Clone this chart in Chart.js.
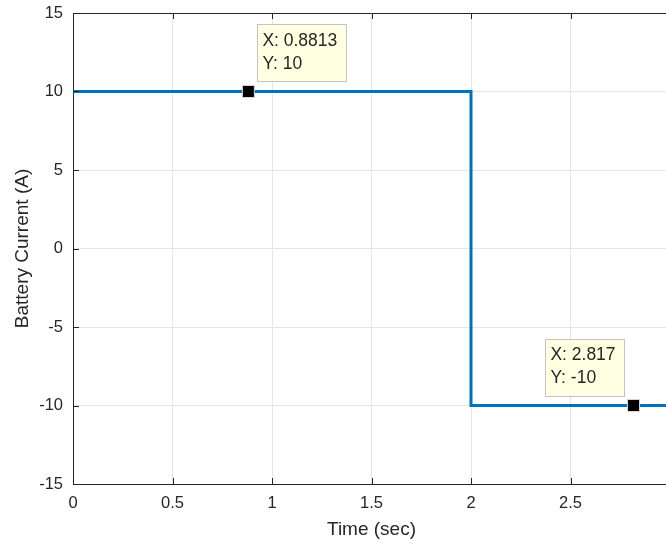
<!DOCTYPE html>
<html>
<head>
<meta charset="utf-8">
<script src="https://cdn.jsdelivr.net/npm/chart.js@4"></script>
<style>
  html, body { margin: 0; padding: 0; overflow: hidden; background: #fff; }
  #wrap { width: 700px; height: 545px; }
</style>
</head>
<body>
<div id="wrap"><canvas id="myChart" width="700" height="545"></canvas></div>
<script>
// step signal: battery current vs time
const time = [0, 2, 2, 3];
const current = [10, 10, -10, -10];

// data cursors
const cursorX = [0.8813, 2.817];
const cursorY = [10, -10];

const xTicks = [0, 0.5, 1, 1.5, 2, 2.5, 3];
const yTicks = [-15, -10, -5, 0, 5, 10, 15];

const textColor = "#262626";
const fontFamily = "'Liberation Sans', Arial, sans-serif";

// box on top, inward tick marks and the data tip boxes
const matlabBits = {
  id: "matlabBits",
  afterDatasetsDraw(chart) {
    const { ctx, chartArea: a, scales } = chart;
    ctx.save();
    ctx.strokeStyle = textColor;
    ctx.lineWidth = 1;
    ctx.beginPath();
    ctx.moveTo(a.left, a.top + 0.5);
    ctx.lineTo(a.right, a.top + 0.5);
    xTicks.forEach((v) => {
      const x = Math.round(scales.x.getPixelForValue(v)) + 0.5;
      ctx.moveTo(x, a.bottom);
      ctx.lineTo(x, a.bottom - 6);
      ctx.moveTo(x, a.top);
      ctx.lineTo(x, a.top + 6);
    });
    yTicks.forEach((v) => {
      const y = Math.round(scales.y.getPixelForValue(v)) + 0.5;
      ctx.moveTo(a.left, y);
      ctx.lineTo(a.left + 6, y);
    });
    ctx.stroke();

    ctx.font = "17.5px " + fontFamily;
    ctx.textBaseline = "middle";
    cursorX.forEach((cx, i) => {
      const px = scales.x.getPixelForValue(cx);
      const py = scales.y.getPixelForValue(cursorY[i]);
      const lines = ["X: " + cx, "Y: " + cursorY[i]];
      const w = Math.max(...lines.map((t) => ctx.measureText(t).width)) + 14;
      const h = 57;
      let left = px + 9;
      if (left + w > a.right) left = px - 9 - w;
      const top = py - 10 - h;
      ctx.fillStyle = "#ffffe1";
      ctx.fillRect(left, top, w, h);
      ctx.strokeStyle = "#c4c4c4";
      ctx.strokeRect(Math.round(left) + 0.5, Math.round(top) + 0.5, Math.round(w), h);
      ctx.fillStyle = textColor;
      ctx.fillText(lines[0], left + 5, top + 17);
      ctx.fillText(lines[1], left + 5, top + 40);
    });
    ctx.restore();
  },
};

new Chart(document.getElementById("myChart"), {
  type: "line",
  data: {
    datasets: [
      {
        label: "Battery Current",
        data: time.map((t, i) => ({ x: t, y: current[i] })),
        borderColor: "#0072BD",
        borderWidth: 3,
        pointRadius: 0,
        fill: false,
        tension: 0,
        order: 2,
      },
      {
        label: "cursors",
        type: "scatter",
        data: cursorX.map((x, i) => ({ x: x, y: cursorY[i] })),
        pointStyle: "rect",
        pointRadius: 8.5,
        backgroundColor: "#000",
        borderColor: "#d8d8d8",
        borderWidth: 1,
        order: 1,
      },
    ],
  },
  options: {
    responsive: false,
    animation: false,
    layout: {
      padding: { top: 13, right: 30, left: 0, bottom: 0 },
    },
    plugins: {
      legend: { display: false },
      tooltip: { enabled: false },
    },
    scales: {
      x: {
        type: "linear",
        min: 0,
        max: 3,
        afterBuildTicks: (s) => { s.ticks = xTicks.map((v) => ({ value: v })); },
        afterFit: (s) => {
          s.height = 61;
          s.paddingLeft = 0;
          s.paddingRight = 0;
        },
        ticks: {
          padding: 10,
          color: textColor,
          font: { family: fontFamily, size: 16.5 },
          maxRotation: 0,
          autoSkip: false,
          callback: (v) => String(v),
        },
        grid: { color: "#e6e6e6", drawTicks: false },
        border: { color: textColor, width: 1 },
        title: {
          display: true,
          text: "Time (sec)",
          color: textColor,
          font: { family: fontFamily, size: 19 },
          padding: { top: 0, bottom: 4 },
        },
      },
      y: {
        min: -15,
        max: 15,
        afterBuildTicks: (s) => { s.ticks = yTicks.map((v) => ({ value: v })); },
        afterFit: (s) => {
          s.width = 73;
          s.paddingTop = 0;
          s.paddingBottom = 0;
        },
        ticks: {
          padding: 10,
          color: textColor,
          font: { family: fontFamily, size: 16.5 },
          autoSkip: false,
          callback: (v) => String(v),
        },
        grid: { color: "#e6e6e6", drawTicks: false },
        border: { color: textColor, width: 1 },
        title: {
          display: true,
          text: "Battery Current (A)",
          color: textColor,
          font: { family: fontFamily, size: 19 },
          padding: { top: 11, bottom: 0 },
        },
      },
    },
  },
  plugins: [matlabBits],
});
</script>
</body>
</html>
